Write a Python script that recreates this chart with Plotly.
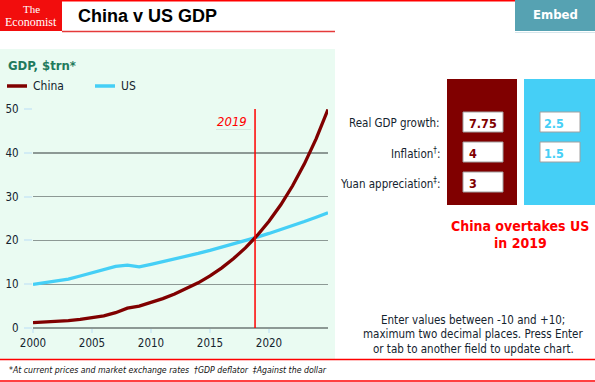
import plotly.graph_objects as go

# ---------------- data ----------------
years = list(range(2000, 2026))
china_gdp = [1.21, 1.34, 1.47, 1.66, 1.96, 2.29, 2.79, 3.49, 4.52, 4.99, 5.82,
             6.71, 7.75, 8.94, 10.32, 11.91, 13.74, 15.86, 18.30, 21.12,
             24.38, 28.13, 32.47, 37.47, 43.24, 49.90]
us_gdp = [9.95, 10.29, 10.64, 11.14, 11.87, 12.64, 13.40, 14.06, 14.37, 13.94, 14.53,
          15.12, 15.73, 16.36, 17.02, 17.71, 18.43, 19.17, 19.95, 20.75,
          21.59, 22.46, 23.37, 24.31, 25.30, 26.32]
x_ticks = [2000, 2005, 2010, 2015, 2020]
y_ticks = [0, 10, 20, 30, 40, 50]
input_labels = ["Real GDP growth:", "Inflation<sup>†</sup>:", "Yuan appreciation<sup>‡</sup>:"]
china_inputs = ["7.75", "4", "3"]
us_inputs = ["2.5", "1.5"]
overtake_year = "2019"

# crossing year computed from the series
cross = None
for i in range(1, len(years)):
    d0 = china_gdp[i - 1] - us_gdp[i - 1]
    d1 = china_gdp[i] - us_gdp[i]
    if d0 < 0 <= d1:
        cross = years[i - 1] + (-d0) / (d1 - d0)
        break

# ---------------- layout helpers (pixel -> paper) ----------------
WIDTH, HEIGHT = 595, 382
ML, MR, MT, MB = 33, 267, 109, 54
PW = WIDTH - ML - MR
PH = HEIGHT - MT - MB


def PX(x):
    return (x - ML) / PW


def PY(y):
    return (HEIGHT - MB - y) / PH


F = "DejaVu Sans Condensed, Liberation Sans, sans-serif"
FB = "DejaVu Sans Condensed, Liberation Sans, sans-serif"
DARKRED = "#800000"
LBLUE = "#45cff6"
RED = "#ff0000"
TXT = "#14232e"

shapes = []
annots = []


def rect(x0, y0, x1, y1, fill, line=None, lw=0, layer="below"):
    shapes.append(dict(type="rect", xref="paper", yref="paper",
                       x0=PX(x0), x1=PX(x1), y0=PY(y0), y1=PY(y1),
                       fillcolor=fill, layer=layer,
                       line=dict(color=line or fill, width=lw)))


def hline(x0, x1, y, color, w, layer="below"):
    shapes.append(dict(type="line", xref="paper", yref="paper",
                       x0=PX(x0), x1=PX(x1), y0=PY(y), y1=PY(y),
                       layer=layer, line=dict(color=color, width=w)))


def text(x, y, s, size, color, xa="left", family=F, bold=False, italic=False):
    if bold:
        s = "<b>" + s + "</b>"
    if italic:
        s = "<i>" + s + "</i>"
    dx = {"left": -1, "right": 1, "center": 0}[xa]
    annots.append(dict(xref="paper", yref="paper", x=PX(x + dx), y=PY(y), text=s,
                       showarrow=False, xanchor=xa, yanchor="middle",
                       font=dict(size=size, color=color, family=family)))


# background panel
rect(0, 49, 335, 359, "#eafbf2")
# header
rect(0, 0, 62, 31, "#f20d0d", layer="above")
hline(62, 515, 0.8, RED, 1.6)
hline(62, 335, 31.5, "#e53a3a", 1.4)
rect(515, 0, 595, 31, "#56a2b2", layer="above")
hline(515, 595, 32.5, "#d6e6ec", 1)
# footer
hline(0, 595, 359.5, RED, 1.4)
hline(0, 595, 381, RED, 1.4)
# input panels
rect(447, 79, 517, 205, DARKRED)
rect(524, 79, 595, 205, LBLUE)
rows_y = [122, 152, 182]
for i, yv in enumerate(rows_y):
    rect(463, yv - 10, 503, yv + 10, "#ffffff", line="#a0a0a0", lw=1, layer="above")
    if i < len(us_inputs):
        rect(540, yv - 10, 580, yv + 10, "#ffffff", line="#a0a0a0", lw=1, layer="above")
# 2019 field underline
hline(216, 251, 129.5, "#d5e6de", 1.2)

# vertical red line at crossing
shapes.append(dict(type="line", xref="x", yref="y", x0=cross, x1=cross,
                   y0=0, y1=50, layer="above", line=dict(color=RED, width=1.5)))

# legend
hline(7, 27, 86, DARKRED, 3.5, layer="above")
hline(95, 115, 86, LBLUE, 3.5, layer="above")
text(32, 86, "China", 12, TXT)
text(120, 86, "US", 12, TXT)

# texts
text(31, 9, "The", 11, "#ffffff", xa="center", family="Liberation Serif, DejaVu Serif, serif")
text(31, 22, "Economist", 12, "#ffffff", xa="center", family="Liberation Serif, DejaVu Serif, serif")
text(77, 16, "China v US GDP", 18, "#000000", family="Liberation Sans, Arial, sans-serif", bold=True)
text(555, 15, "Embed", 13, "#ffffff", xa="center", family=FB, bold=True)
text(7, 65, "GDP, $trn*", 13, "#1f7a5c", family=FB, bold=True)
text(248, 121, overtake_year, 13, RED, xa="right", italic=True)

for lab, yv in zip(input_labels, rows_y):
    text(441, yv + 1, lab, 11.5, TXT, xa="right")
for v, yv in zip(china_inputs, rows_y):
    text(468, yv + 1, v, 12.5, DARKRED, bold=True)
for v, yv in zip(us_inputs, rows_y):
    text(543, yv + 1, v, 12.5, LBLUE, bold=True)

text(520, 226, "China overtakes US", 14, RED, xa="center", family=FB, bold=True)
text(520, 243, "in " + overtake_year, 14, RED, xa="center", family=FB, bold=True)

text(473, 320, "Enter values between -10 and +10;", 11.5, TXT, xa="center")
text(473, 334, "maximum two decimal places. Press Enter", 11.5, TXT, xa="center")
text(473, 349, "or tab to another field to update chart.", 11.5, TXT, xa="center")

text(8, 370, "*At current prices and market exchange rates  †GDP deflator  ‡Against the dollar",
     8.7, "#111111", italic=True)

# ---------------- figure ----------------
fig = go.Figure()
fig.add_trace(go.Scatter(x=years, y=us_gdp, mode="lines", name="US",
                         line=dict(color=LBLUE, width=3.3), hoverinfo="skip"))
fig.add_trace(go.Scatter(x=years, y=china_gdp, mode="lines", name="China",
                         line=dict(color=DARKRED, width=3.3), hoverinfo="skip"))

fig.update_layout(
    width=WIDTH, height=HEIGHT,
    margin=dict(l=ML, r=MR, t=MT, b=MB, pad=0, autoexpand=False),
    paper_bgcolor="#ffffff", plot_bgcolor="rgba(0,0,0,0)",
    showlegend=False,
    shapes=shapes, annotations=annots,
    font=dict(family=F, size=11, color=TXT),
)
fig.update_xaxes(range=[2000, 2025], tickvals=x_ticks, showgrid=False, zeroline=False,
                 ticks="outside", ticklen=4, tickwidth=2, tickcolor="#d2ecf4",
                 showline=False, tickfont=dict(size=11.5, color=TXT, family=F),
                 automargin=False, fixedrange=True)
fig.update_yaxes(range=[0, 50], tickvals=y_ticks, showgrid=True, gridcolor="#8d9995",
                 gridwidth=1.4, zeroline=True, zerolinecolor="#8d9995", zerolinewidth=1.4,
                 ticks="outside", ticklen=8, tickwidth=2, tickcolor="#d2ecf4",
                 ticklabelstandoff=3, automargin=False,
                 showline=False, tickfont=dict(size=11.5, color=TXT, family=F),
                 fixedrange=True)

fig.write_html("out.html", config={"displayModeBar": False, "staticPlot": True},
               post_script="document.body.style.margin='0';document.body.style.padding='0';")
